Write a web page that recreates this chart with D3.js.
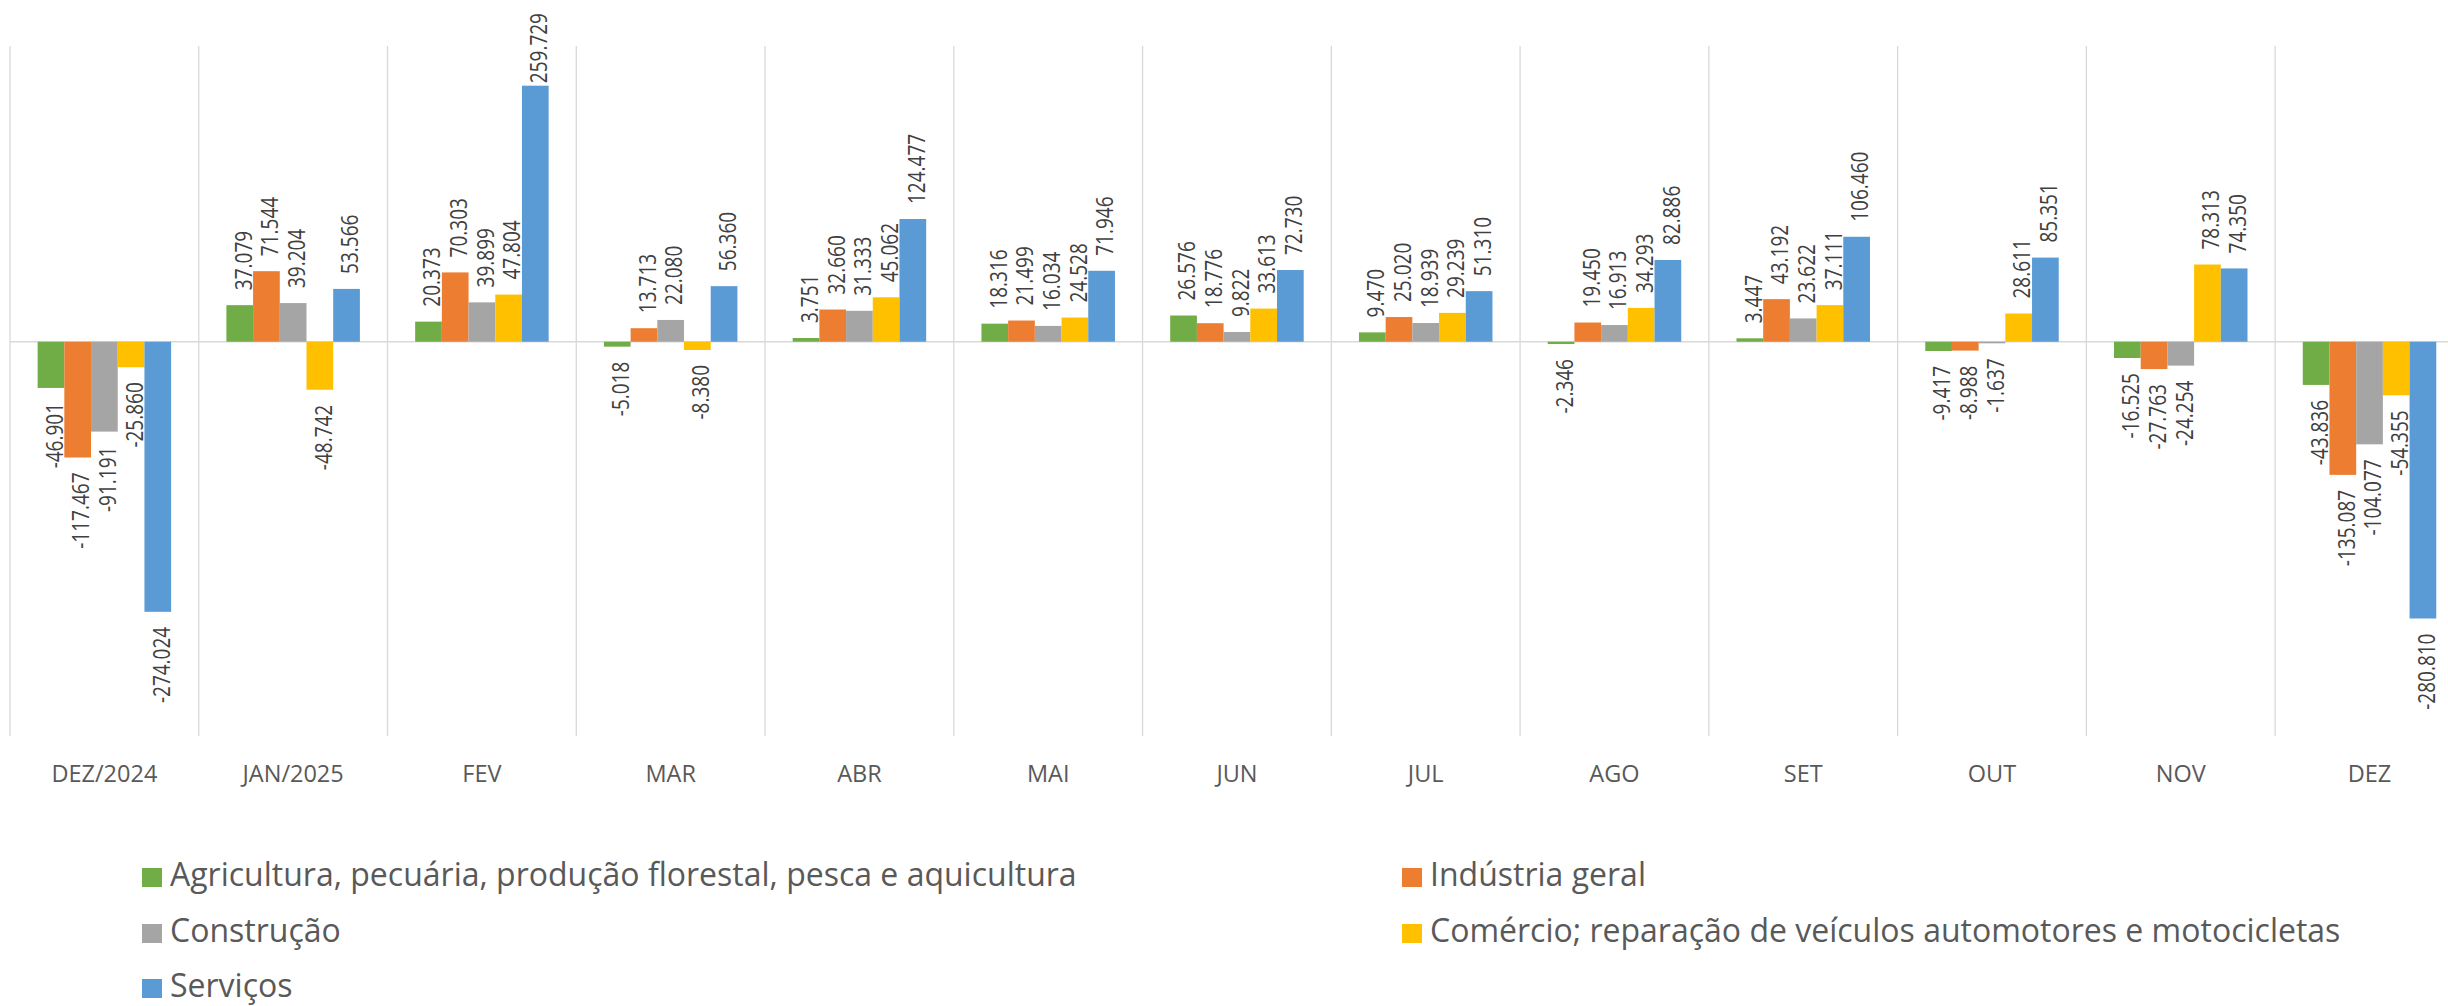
<!DOCTYPE html>
<html>
<head>
<meta charset="utf-8">
<script src="https://cdn.jsdelivr.net/npm/d3@7"></script>
<style>
  html, body { margin: 0; padding: 0; background: #ffffff; }
  svg { display: block; }
</style>
</head>
<body>
<svg id="chart" width="2448" height="1006"></svg>
<script>
// ---------------- DATA ----------------
const categories = ["DEZ/2024", "JAN/2025", "FEV", "MAR", "ABR", "MAI", "JUN", "JUL", "AGO", "SET", "OUT", "NOV", "DEZ"];

const seriesNames = [
  "Agricultura, pecuária, produção florestal, pesca e aquicultura",
  "Indústria geral",
  "Construção",
  "Comércio; reparação de veículos automotores e motocicletas",
  "Serviços"
];

const agricultura = [-46.901, 37.079, 20.373, -5.018, 3.751, 18.316, 26.576, 9.470, -2.346, 3.447, -9.417, -16.525, -43.836];
const industria   = [-117.467, 71.544, 70.303, 13.713, 32.660, 21.499, 18.776, 25.020, 19.450, 43.192, -8.988, -27.763, -135.087];
const construcao  = [-91.191, 39.204, 39.899, 22.080, 31.333, 16.034, 9.822, 18.939, 16.913, 23.622, -1.637, -24.254, -104.077];
const comercio    = [-25.860, -48.742, 47.804, -8.380, 45.062, 24.528, 33.613, 29.239, 34.293, 37.111, 28.611, 78.313, -54.355];
const servicos    = [-274.024, 53.566, 259.729, 56.360, 124.477, 71.946, 72.730, 51.310, 82.886, 106.460, 85.351, 74.350, -280.810];

const yDomain = [-400, 300];

// ---------------- STYLE ----------------
const seriesValues = [agricultura, industria, construcao, comercio, servicos];
const seriesColors = ["#70ad47", "#ed7d31", "#a5a5a5", "#ffc000", "#5b9bd5"];

const svg = d3.select("#chart");

const plot = { left: 10, right: 2463.9, top: 46, bottom: 736 };

const x0 = d3.scaleBand().domain(categories).range([plot.left, plot.right]).paddingInner(0).paddingOuter(0);
const x1 = d3.scaleBand().domain(d3.range(seriesNames.length)).range([0, x0.bandwidth()]).paddingInner(0).paddingOuter(1.035);
const y = d3.scaleLinear().domain(yDomain).range([plot.bottom, plot.top]);

const gridColor = "#d9d9d9";

// vertical category gridlines
const gridX = categories.map(c => x0(c)).concat([x0(categories[categories.length - 1]) + x0.bandwidth()]);
svg.append("g").selectAll("line").data(gridX).join("line")
  .attr("x1", d => d).attr("x2", d => d)
  .attr("y1", plot.top).attr("y2", plot.bottom)
  .attr("stroke", gridColor).attr("stroke-width", 1.3);

// zero line
svg.append("line")
  .attr("x1", plot.left).attr("x2", plot.right)
  .attr("y1", y(0)).attr("y2", y(0))
  .attr("stroke", gridColor).attr("stroke-width", 1.5);

// bars
const flat = [];
categories.forEach((c, ci) => {
  seriesValues.forEach((vals, si) => {
    flat.push({ cat: c, s: si, v: vals[ci] });
  });
});

const barsG = svg.append("g");
barsG.selectAll("rect").data(flat).join("rect")
  .attr("x", d => x0(d.cat) + x1(d.s))
  .attr("width", x1.bandwidth())
  .attr("y", d => y(Math.max(0, d.v)))
  .attr("height", d => Math.abs(y(d.v) - y(0)))
  .attr("fill", d => seriesColors[d.s]);

// value labels (rotated)
const labelFs = 19;
const labelScale = 1.22;
const labelsG = svg.append("g")
  .attr("font-family", "'Open Sans', 'Noto Sans', sans-serif")
  .attr("font-size", labelFs)
  .attr("fill", "#404040");

flat.forEach(d => {
  const cx = x0(d.cat) + x1(d.s) + x1.bandwidth() / 2 + 3.5;
  const g = labelsG.append("g");
  const t = g.append("text")
    .attr("dy", "0.357em")
    .text(d.v.toFixed(3));
  const len = t.node().getComputedTextLength();
  let yy;
  if (d.v >= 0) {
    // text runs upward from yy; keep its top inside the chart
    yy = y(d.v) - 15;
    yy = Math.max(yy, 13 + len);
    t.attr("text-anchor", "start");
  } else {
    // text hangs below yy; keep its bottom inside the chart
    yy = y(d.v) + 15;
    yy = Math.min(yy, plot.bottom - len);
    t.attr("text-anchor", "end");
  }
  g.attr("transform", `translate(${cx},${yy}) rotate(-90) scale(1,${labelScale})`);
});

// category labels
svg.append("g")
  .attr("font-family", "'Open Sans', 'Noto Sans', sans-serif")
  .attr("font-size", 23.5)
  .attr("fill", "#595959")
  .attr("text-anchor", "middle")
  .selectAll("text").data(categories).join("text")
  .attr("x", c => x0(c) + x0.bandwidth() / 2)
  .attr("y", 781.5)
  .text(c => c);

// legend
const legendPos = [
  { x: 142, y: 868 },
  { x: 1402, y: 868 },
  { x: 142, y: 924 },
  { x: 1402, y: 924 },
  { x: 142, y: 979 }
];
const legendG = svg.append("g")
  .attr("font-family", "'Open Sans', 'Noto Sans', sans-serif")
  .attr("font-size", 32)
  .attr("fill", "#595959");

const items = legendG.selectAll("g").data(seriesNames).join("g")
  .attr("transform", (d, i) => `translate(${legendPos[i].x},${legendPos[i].y})`);
items.append("rect")
  .attr("width", 20).attr("height", 19)
  .attr("fill", (d, i) => seriesColors[i]);
items.append("text")
  .attr("x", 28).attr("y", 18)
  .text(d => d);
</script>
</body>
</html>
